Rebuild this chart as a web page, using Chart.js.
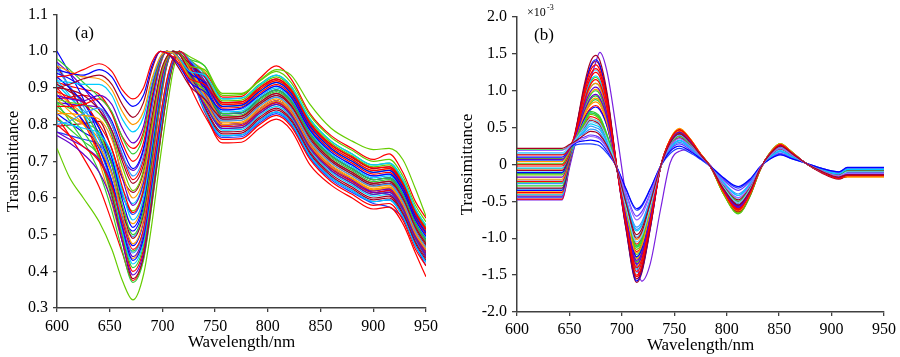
<!DOCTYPE html>
<html>
<head>
<meta charset="utf-8">
<script src="https://cdn.jsdelivr.net/npm/chart.js@4.4.1/dist/chart.umd.min.js"></script>
<style>
html,body{margin:0;padding:0;background:#fff;}
#wrap{position:relative;width:900px;height:357px;overflow:hidden;}
canvas{position:absolute;top:0;}
#ca{left:0;}
#cb{left:450px;}
</style>
</head>
<body>
<div id="wrap">
<canvas id="ca" width="450" height="357"></canvas>
<canvas id="cb" width="450" height="357"></canvas>
</div>
<script>
// ---------- Panel (a): wavelength grid (nm) and transmittance series ----------
const waveA = [600,612,625,640,652,662,672,682,690,698,704,710,716,726,740,757,775,792,808,822,840,860,880,900,915,928,940,950];
const xTicksA = [600,650,700,750,800,850,900,950];
const yTicksA = [0.3,0.4,0.5,0.6,0.7,0.8,0.9,1.0,1.1];

const a01 = [.93,.935,.95,.966,.945,.895,.87,.9,.97,1.0,.995,.985,.965,.925,.91,.86,.862,.9,.925,.895,.805,.745,.712,.682,.685,.64,.56,.515];
const a02 = [.95,.94,.935,.95,.93,.88,.85,.88,.96,1.0,.996,.982,.96,.915,.89,.84,.845,.88,.905,.875,.785,.725,.69,.66,.665,.62,.54,.495];
const a03 = [.90,.91,.925,.935,.91,.855,.82,.86,.95,1.0,.995,.978,.952,.905,.87,.82,.823,.86,.885,.853,.765,.705,.67,.64,.645,.60,.52,.475];
const a04 = [.96,.945,.93,.925,.895,.835,.80,.835,.925,.985,1.0,.995,.975,.925,.865,.80,.803,.84,.865,.835,.745,.685,.652,.622,.628,.582,.502,.458];
const a05 = [.92,.915,.91,.91,.88,.815,.78,.82,.915,.985,1.0,.995,.98,.945,.935,.87,.872,.908,.935,.905,.815,.755,.72,.69,.695,.65,.57,.525];
const a06 = [.88,.87,.865,.88,.855,.79,.75,.795,.905,.98,1.0,.995,.975,.92,.855,.79,.792,.83,.855,.825,.735,.675,.64,.61,.615,.57,.49,.445];
const a07 = [.98,.95,.915,.875,.835,.765,.72,.77,.89,.975,1.0,.996,.978,.93,.895,.83,.833,.87,.895,.865,.775,.715,.68,.65,.655,.61,.53,.485];
const a08 = [.85,.85,.855,.87,.83,.75,.70,.75,.875,.972,1.0,.995,.972,.905,.825,.76,.762,.8,.825,.795,.705,.645,.61,.58,.585,.54,.46,.415];
const a09 = [.94,.925,.9,.86,.81,.735,.68,.735,.865,.97,1.0,.996,.98,.94,.915,.85,.853,.89,.915,.885,.795,.735,.70,.67,.675,.63,.55,.505];
const a10 = [.80,.81,.83,.845,.8,.72,.66,.715,.85,.965,1.0,.996,.978,.925,.875,.81,.812,.85,.875,.845,.755,.695,.66,.632,.638,.59,.51,.465];
const a11 = [.90,.895,.88,.84,.785,.70,.64,.69,.82,.94,.985,1.0,.992,.94,.85,.78,.782,.82,.845,.815,.725,.665,.63,.60,.605,.56,.48,.435];
const a12 = [.87,.86,.855,.83,.775,.685,.62,.675,.805,.93,.982,1.0,.995,.96,.95,.88,.882,.918,.945,.915,.825,.765,.73,.70,.705,.66,.58,.535];
const a13 = [.83,.83,.825,.815,.76,.665,.60,.655,.79,.925,.98,1.0,.993,.95,.89,.82,.822,.86,.885,.855,.765,.705,.67,.64,.645,.60,.52,.475];
const a14 = [.97,.94,.9,.84,.77,.655,.58,.64,.775,.915,.978,1.0,.993,.945,.87,.80,.802,.84,.865,.835,.745,.685,.65,.62,.625,.58,.50,.455];
const a15 = [.89,.875,.86,.80,.735,.63,.56,.62,.76,.905,.975,1.0,.994,.955,.915,.845,.848,.885,.91,.88,.79,.73,.695,.665,.67,.625,.545,.50];
const a16 = [.81,.80,.79,.775,.72,.615,.54,.60,.745,.895,.972,1.0,.993,.94,.84,.77,.772,.81,.835,.805,.715,.655,.62,.59,.595,.55,.47,.425];
const a17 = [.93,.90,.86,.79,.71,.595,.52,.585,.73,.885,.97,1.0,.995,.955,.90,.83,.832,.87,.895,.865,.775,.715,.68,.65,.655,.61,.53,.485];
const a18 = [.86,.845,.83,.77,.69,.58,.50,.565,.715,.875,.965,1.0,.995,.95,.86,.79,.792,.83,.855,.825,.735,.675,.64,.61,.615,.57,.49,.445];
const a19 = [.91,.89,.865,.79,.69,.57,.49,.555,.705,.87,.962,1.0,.996,.965,.93,.86,.862,.9,.925,.895,.805,.745,.71,.68,.685,.64,.56,.515];
const a20 = [.84,.82,.80,.74,.665,.555,.475,.54,.695,.86,.96,1.0,.995,.955,.88,.81,.812,.85,.875,.845,.755,.695,.66,.63,.635,.59,.51,.465];
const a21 = [.80,.77,.74,.70,.63,.535,.46,.515,.665,.82,.92,.98,1.0,.965,.84,.75,.752,.79,.815,.785,.69,.635,.60,.57,.575,.53,.45,.385];
const a22 = [.95,.905,.85,.76,.665,.54,.45,.51,.66,.815,.915,.978,1.0,.975,.93,.84,.842,.88,.905,.875,.785,.725,.69,.66,.665,.62,.54,.495];
const a23 = [.78,.76,.74,.705,.635,.525,.44,.50,.65,.81,.91,.977,1.0,.97,.89,.80,.802,.84,.865,.835,.745,.685,.65,.615,.61,.57,.49,.44];
const a24 = [.88,.85,.81,.735,.645,.52,.43,.49,.64,.80,.905,.975,1.0,.972,.91,.82,.822,.86,.885,.855,.765,.705,.67,.64,.645,.60,.52,.475];
const a25 = [.92,.88,.83,.74,.64,.51,.42,.48,.63,.79,.90,.975,1.0,.968,.875,.785,.787,.825,.85,.82,.73,.67,.635,.605,.61,.565,.485,.44];
const a26 = [.85,.82,.78,.71,.62,.50,.41,.47,.62,.785,.895,.972,1.0,.978,.96,.87,.872,.91,.935,.905,.815,.755,.72,.69,.695,.65,.57,.525];
const a27 = [.90,.86,.805,.72,.62,.495,.40,.46,.61,.775,.89,.97,1.0,.972,.89,.80,.802,.84,.865,.835,.745,.685,.65,.62,.625,.58,.50,.455];
const a28 = [.77,.75,.72,.67,.59,.48,.39,.45,.60,.77,.885,.968,1.0,.975,.92,.83,.832,.87,.895,.865,.775,.715,.68,.65,.655,.61,.53,.485];
const a29 = [.96,.90,.83,.72,.61,.48,.38,.44,.59,.76,.88,.965,1.0,.972,.905,.815,.817,.855,.88,.85,.76,.70,.665,.635,.64,.595,.515,.47];
const a30 = [.86,.81,.755,.67,.565,.455,.37,.43,.58,.755,.875,.963,1.0,.976,.94,.85,.852,.89,.915,.885,.795,.735,.70,.67,.675,.63,.55,.505];
const a31 = [.82,.77,.71,.63,.535,.45,.375,.435,.585,.76,.877,.965,1.0,.972,.885,.795,.797,.835,.86,.83,.74,.68,.645,.615,.62,.575,.495,.45];
const a32 = [.735,.655,.60,.535,.46,.375,.322,.39,.53,.71,.835,.945,1.0,.985,.96,.885,.885,.92,.95,.935,.855,.79,.755,.732,.735,.705,.625,.55];
const a33 = [1.0,.94,.87,.77,.67,.55,.47,.535,.69,.855,.958,1.0,.993,.945,.84,.77,.772,.81,.835,.805,.715,.655,.62,.59,.595,.55,.47,.425];
const a34 = [.87,.875,.88,.86,.80,.715,.65,.705,.845,.962,1.0,.997,.982,.945,.94,.875,.877,.925,.96,.925,.83,.77,.735,.705,.72,.67,.59,.545];
const a35 = [.78,.77,.76,.745,.70,.61,.555,.615,.755,.90,.972,1.0,.993,.94,.835,.765,.767,.805,.83,.80,.71,.65,.615,.585,.575,.545,.47,.415];
const a36 = [.87,.836,.803,.758,.663,.572,.53,.595,.74,.89,.97,1.0,.994,.945,.875,.805,.807,.845,.87,.84,.75,.69,.655,.625,.63,.585,.505,.46];
const a37 = [.91,.874,.839,.791,.708,.624,.585,.645,.78,.918,.978,1.0,.993,.955,.905,.835,.837,.875,.9,.87,.78,.72,.685,.655,.66,.615,.535,.49];
const a38 = [.82,.788,.755,.712,.601,.501,.455,.512,.662,.818,.918,.979,1.0,.972,.915,.825,.827,.865,.89,.86,.77,.71,.675,.645,.65,.605,.525,.48];
const a39 = [.795,.799,.803,.809,.733,.653,.615,.67,.80,.928,.982,1.0,.992,.935,.845,.775,.777,.815,.84,.81,.72,.66,.625,.595,.60,.555,.475,.43];
const a40 = [.86,.856,.852,.846,.783,.71,.675,.73,.862,.968,1.0,.995,.975,.92,.865,.80,.802,.84,.865,.835,.745,.685,.65,.62,.625,.58,.50,.455];
const a41 = [.97,.90,.83,.736,.634,.539,.495,.56,.71,.872,.963,1.0,.995,.95,.885,.815,.817,.855,.88,.85,.76,.70,.665,.635,.64,.595,.515,.47];
const a42 = [.915,.905,.896,.883,.833,.767,.735,.78,.897,.977,1.0,.995,.978,.935,.92,.855,.857,.895,.92,.89,.80,.74,.705,.675,.68,.635,.555,.51];
const a43 = [.83,.805,.779,.745,.646,.553,.51,.575,.722,.88,.968,1.0,.995,.94,.865,.795,.797,.835,.86,.83,.74,.68,.645,.615,.62,.575,.495,.45];
const a44 = [.89,.857,.824,.70,.584,.482,.435,.495,.645,.805,.908,.976,1.0,.975,.945,.855,.857,.895,.92,.89,.80,.74,.705,.675,.68,.635,.555,.51];
const a45 = [.84,.822,.803,.779,.692,.605,.565,.625,.765,.908,.975,1.0,.994,.96,.935,.865,.867,.905,.93,.90,.81,.75,.715,.685,.69,.645,.565,.52];

const seriesA = [a01,a02,a03,a04,a05,a06,a07,a08,a09,a10,a11,a12,a13,a14,a15,a16,a17,a18,a19,a20,a21,a22,a23,a24,a25,a26,a27,a28,a29,a30,a31,a32,a33,a34,a35,a36,a37,a38,a39,a40,a41,a42,a43,a44,a45];
const colorsA = ['#ff0000','#0000ff','#a50021','#ff9900','#00ccff','#6600cc','#33cc33','#ff0000','#0000ff','#3399ff',
                 '#a50021','#66cc00','#ff9900','#6600cc','#ff0000','#00ccff','#0000ff','#33cc33','#a50021','#ff9900',
                 '#ff0000','#3399ff','#6600cc','#0000ff','#00ccff','#33cc33','#ff0000','#6600cc','#a50021','#33cc33',
                 '#ff0000','#66cc00','#0000ff','#ff0000','#1f3fff','#ff9900','#00ccff','#33cc33','#a50021','#6600cc',
                 '#3399ff','#ff0000','#0000ff','#ff9900','#66cc00'];

// ---------- Panel (b): wavelength grid (nm) and first-derivative series (x10^-3) ----------
const waveB = [600,643,650,657,664,670,675,679,686,695,704,714,719,727,737,746,755,765,775,785,797,811,822,832,842,851,862,875,890,907,915,950];
const xTicksB = [600,650,700,750,800,850,900,950];
const yTicksB = [-2.0,-1.5,-1.0,-0.5,0,0.5,1.0,1.5,2.0];

const b01 = [.22,.22,.27,.33,.40,.45,.44,.40,.25,-.05,-.52,-.95,-.87,-.52,-.02,.29,.42,.30,.13,-.04,-.33,-.55,-.36,-.05,.15,.25,.15,.02,-.09,-.17,-.14,-.14];
const b02 = [.19,.19,.25,.31,.35,.38,.37,.34,.21,-.04,-.41,-.75,-.69,-.41,-.02,.25,.35,.25,.11,-.04,-.27,-.45,-.29,-.04,.13,.22,.13,.02,-.08,-.15,-.12,-.12];
const b03 = [.16,.16,.24,.36,.51,.62,.60,.56,.34,-.04,-.58,-1.05,-.97,-.58,-.03,.28,.40,.29,.12,-.04,-.31,-.52,-.34,-.05,.14,.24,.14,.02,-.09,-.16,-.10,-.10];
const b04 = [.13,.13,.22,.49,.92,1.17,1.25,1.19,.81,-.03,-.8,-1.45,-1.33,-.8,-.03,.33,.47,.34,.14,-.04,-.37,-.62,-.40,-.06,.16,.27,.16,.02,-.10,-.19,-.15,-.15];
const b05 = [.10,.10,.22,.30,.32,.33,.32,.30,.18,-.03,-.33,-.60,-.55,-.33,-.02,.18,.25,.18,.08,-.03,-.18,-.30,-.20,-.03,.08,.13,.08,.02,-.05,-.10,-.04,-.04];
const b06 = [.07,.07,.2,.43,.72,.90,.95,.90,.62,-.04,-.72,-1.30,-1.2,-.72,-.03,.31,.44,.32,.13,-.04,-.35,-.58,-.38,-.06,.16,.26,.16,.02,-.10,-.18,-.13,-.13];
const b07 = [.04,.04,.19,.41,.66,.81,.85,.81,.55,-.04,-.66,-1.20,-1.10,-.66,-.03,.32,.46,.33,.14,-.04,-.38,-.63,-.41,-.06,.17,.28,.17,.02,-.10,-.18,-.16,-.16];
const b08 = [.01,.01,.17,.38,.57,.72,.70,.65,.40,-.04,-.6,-1.10,-1.01,-.6,-.03,.27,.38,.27,.11,-.04,-.30,-.50,-.33,-.05,.13,.22,.13,.02,-.08,-.15,-.09,-.09];
const b09 = [-.02,-.02,.14,.47,.85,1.08,1.15,1.09,.75,-.03,-.77,-1.40,-1.29,-.77,-.03,.32,.45,.32,.14,-.04,-.36,-.60,-.39,-.06,.16,.26,.16,.02,-.09,-.17,-.12,-.12];
const b10 = [-.05,-.05,.13,.35,.46,.55,.53,.50,.30,-.04,-.5,-.90,-.83,-.5,-.02,.23,.33,.24,.10,-.04,-.25,-.42,-.27,-.04,.11,.19,.11,.02,-.07,-.13,-.07,-.07];
const b11 = [-.08,-.08,.12,.54,1.07,1.39,1.48,1.41,.96,-.01,-.85,-1.55,-1.43,-.85,-.03,.33,.47,.34,.14,-.04,-.38,-.64,-.42,-.06,.16,.27,.16,.02,-.11,-.20,-.16,-.16];
const b12 = [-.11,-.11,.11,.40,.61,.74,.78,.74,.51,-.05,-.69,-1.25,-1.15,-.69,-.03,.28,.40,.29,.12,-.04,-.33,-.55,-.36,-.05,.14,.23,.14,.02,-.09,-.16,-.11,-.11];
const b13 = [-.14,-.14,.10,.38,.55,.68,.66,.61,.37,-.05,-.63,-1.15,-1.06,-.63,-.03,.30,.43,.31,.13,-.04,-.40,-.66,-.43,-.07,.17,.28,.17,.02,-.10,-.19,-.15,-.15];
const b14 = [-.17,-.17,.09,.45,.79,.99,1.05,1.0,.68,-.03,-.74,-1.35,-1.24,-.74,-.03,.29,.42,.30,.13,-.04,-.34,-.57,-.37,-.06,.15,.25,.15,.02,-.09,-.17,-.13,-.13];
const b15 = [-.20,-.20,.08,.42,.69,.85,.90,.86,.59,-.04,-.7,-1.28,-1.18,-.7,-.03,.34,.48,.35,.14,-.04,-.39,-.65,-.42,-.07,.17,.28,.17,.02,-.10,-.18,-.17,-.17];
const b16 = [-.23,-.23,.07,.51,.99,1.27,1.35,1.28,.88,-.02,-.84,-1.52,-1.40,-.84,-.03,.32,.46,.33,.14,-.04,-.37,-.61,-.40,-.06,.16,.26,.16,.02,-.10,-.18,-.14,-.14];
const b17 = [-.26,-.26,.06,.34,.42,.48,.47,.43,.26,-.04,-.47,-.85,-.78,-.47,-.02,.21,.30,.22,.09,-.04,-.24,-.40,-.26,-.04,.10,.17,.10,.02,-.07,-.12,-.06,-.06];
const b18 = [-.29,-.29,.05,.44,.76,.94,1.0,.95,.65,-.03,-.73,-1.32,-1.21,-.73,-.03,.32,.45,.32,.14,-.04,-.40,-.67,-.44,-.07,.17,.28,.17,.02,-.10,-.19,-.16,-.16];
const b19 = [-.32,-.32,.04,.36,.50,.60,.58,.54,.33,-.04,-.55,-1.00,-.92,-.55,-.03,.25,.36,.26,.11,-.04,-.29,-.48,-.31,-.05,.13,.21,.13,.02,-.08,-.14,-.08,-.08];
const b20 = [-.35,-.35,.03,.52,1.03,1.33,1.42,1.35,.92,-.02,-.87,-1.58,-1.45,-.87,-.03,.31,.44,.32,.13,-.04,-.35,-.59,-.38,-.06,.15,.25,.15,.02,-.09,-.17,-.12,-.12];
const b21 = [-.38,-.38,.02,.40,.63,.76,.80,.76,.52,-.04,-.65,-1.18,-1.09,-.65,-.03,.29,.41,.30,.12,-.04,-.34,-.56,-.36,-.06,.14,.24,.14,.02,-.09,-.16,-.11,-.11];
const b22 = [-.41,-.41,.01,.48,.89,1.13,1.20,1.14,.78,-.02,-.78,-1.42,-1.31,-.78,-.03,.30,.43,.31,.13,-.04,-.36,-.60,-.39,-.06,.15,.25,.15,.02,-.09,-.17,-.13,-.13];
const b23 = [-.44,-.44,0,.32,.37,.40,.39,.36,.22,-.03,-.39,-.70,-.64,-.39,-.02,.20,.28,.20,.08,-.03,-.21,-.35,-.23,-.04,.09,.15,.09,.02,-.06,-.11,-.05,-.05];
const b24 = [-.47,-.47,-.01,.50,.96,1.22,1.30,1.24,.85,-.02,-.83,-1.50,-1.38,-.83,-.03,.33,.47,.34,.14,-.04,-.38,-.63,-.41,-.06,.16,.27,.16,.02,-.10,-.19,-.15,-.15];
const b25 = [-.48,-.48,-.05,.38,.80,1.15,1.38,1.52,1.25,.45,-.45,-1.35,-1.58,-1.35,-.60,.02,.18,.20,.12,-.02,-.30,-.50,-.33,-.05,.13,.22,.13,.02,-.07,-.14,-.10,-.10];
const b26 = [-.37,-.37,.02,.46,.82,1.04,1.10,1.05,.72,-.03,-.76,-1.38,-1.27,-.76,-.03,.34,.49,.35,.15,-.04,-.40,-.66,-.43,-.07,.17,.28,.17,.02,-.10,-.18,-.16,-.16];
const b27 = [-.12,-.12,.11,.43,.71,.88,.93,.88,.60,-.03,-.67,-1.22,-1.12,-.67,-.03,.32,.46,.33,.14,-.04,-.38,-.64,-.42,-.06,.16,.27,.16,.02,-.10,-.18,-.15,-.15];
const b28 = [0,0,.17,.37,.53,.65,.63,.59,.36,-.04,-.59,-1.08,-.99,-.59,-.03,.27,.39,.28,.12,-.04,-.31,-.52,-.34,-.05,.14,.23,.14,.02,-.08,-.15,-.10,-.10];
const b29 = [.05,.05,.20,.27,.28,.28,.27,.25,.15,-.03,-.34,-.62,-.57,-.34,-.02,.15,.22,.16,.07,-.03,-.19,-.32,-.21,-.03,.08,.14,.08,.02,-.05,-.10,-.05,-.05];
const b30 = [-.43,-.43,0,.52,1.02,1.31,1.40,1.33,.91,-.02,-.88,-1.60,-1.47,-.88,-.03,.32,.45,.32,.14,-.04,-.37,-.62,-.40,-.06,.16,.26,.16,.02,-.10,-.18,-.14,-.14];
const b31 = [.20,.20,.26,.38,.56,.70,.68,.63,.385,-.04,-.62,-1.12,-1.03,-.62,-.03,.29,.41,.30,.12,-.04,-.34,-.56,-.36,-.06,.15,.25,.15,.02,-.09,-.16,-.13,-.13];
const b32 = [.14,.14,.23,.46,.82,1.04,1.10,1.05,.72,-.03,-.75,-1.36,-1.25,-.75,-.03,.31,.44,.32,.13,-.04,-.36,-.60,-.39,-.06,.16,.26,.16,.02,-.10,-.18,-.14,-.14];
const b33 = [-.06,-.06,.13,.36,.51,.62,.60,.56,.34,-.04,-.56,-1.02,-.94,-.56,-.03,.32,.45,.32,.14,-.04,-.37,-.62,-.40,-.06,.16,.27,.16,.02,-.10,-.18,-.15,-.15];
const b34 = [-.09,-.09,.12,.50,.94,1.20,1.28,1.22,.83,-.02,-.81,-1.47,-1.35,-.81,-.03,.29,.42,.30,.13,-.04,-.33,-.55,-.36,-.05,.14,.24,.14,.02,-.09,-.16,-.11,-.11];
const b35 = [-.25,-.25,.06,.42,.68,.83,.88,.84,.57,-.04,-.69,-1.26,-1.16,-.69,-.03,.33,.47,.34,.14,-.04,-.40,-.66,-.43,-.07,.17,.28,.17,.02,-.10,-.19,-.16,-.16];
const b36 = [-.33,-.33,.04,.38,.56,.70,.68,.63,.385,-.04,-.62,-1.12,-1.03,-.62,-.03,.28,.40,.29,.12,-.04,-.32,-.53,-.34,-.05,.14,.23,.14,.02,-.08,-.15,-.10,-.10];
const b37 = [-.40,-.40,.01,.44,.77,.96,1.02,.97,.66,-.03,-.73,-1.33,-1.22,-.73,-.03,.34,.48,.35,.14,-.04,-.38,-.64,-.42,-.06,.16,.27,.16,.02,-.10,-.18,-.15,-.15];
const b38 = [-.45,-.45,-.01,.34,.44,.52,.50,.47,.29,-.04,-.48,-.88,-.81,-.48,-.02,.22,.32,.23,.10,-.04,-.25,-.42,-.27,-.04,.11,.18,.11,.02,-.07,-.12,-.07,-.07];
const b39 = [.08,.08,.21,.48,.87,1.11,1.18,1.12,.77,-.02,-.77,-1.40,-1.29,-.77,-.03,.32,.46,.33,.14,-.04,-.39,-.65,-.42,-.07,.17,.28,.17,.02,-.10,-.19,-.16,-.16];
const b40 = [-.21,-.21,.08,.36,.48,.58,.56,.52,.32,-.04,-.54,-.98,-.90,-.54,-.02,.25,.36,.26,.11,-.04,-.28,-.46,-.30,-.05,.12,.20,.12,.02,-.07,-.13,-.08,-.08];

const seriesB = [b01,b02,b03,b04,b05,b06,b07,b08,b09,b10,b11,b12,b13,b14,b15,b16,b17,b18,b19,b20,b21,b22,b23,b24,b25,b26,b27,b28,b29,b30,b31,b32,b33,b34,b35,b36,b37,b38,b39,b40];
const colorsB = ['#a50021','#9966ff','#66ccff','#ff0000','#0000ff','#6600cc','#ff9900','#33cc33','#ff0000','#00ccff',
                 '#a50021','#0000ff','#66cc00','#6600cc','#ff9900','#ff0000','#3399ff','#33cc33','#a50021','#0000ff',
                 '#ff0000','#00ccff','#6633ff','#ff0000','#7a1fe0','#ff9900','#33cc33','#ff0000','#1f3fff','#a50021',
                 '#33cc33','#00ccff','#ff9900','#66ccff','#33cc33','#00ccff','#ff9900','#3399ff','#66cc00','#66ccff'];

// ---------- build ----------
const FONT = '"Liberation Serif", "Times New Roman", serif';
const AXIS = '#404040';
const bad = [];
function makeSets(xs, list, colors, tag){
  return list.map((ys,i)=>{
    if (ys.length !== xs.length) bad.push(tag+(i+1)+':'+ys.length);
    return {
      data: ys.map((y,j)=>({x:xs[j], y:y})),
      borderColor: colors[i % colors.length],
      borderWidth: 1.2,
      pointRadius: 0,
      fill: false,
      cubicInterpolationMode: 'monotone'
    };
  });
}
function fixedTicks(vals){
  return function(scale){ scale.ticks = vals.map(v=>({value:v})); };
}
function opts(cfg){
  return {
    responsive:false, animation:false, events:[],
    layout:{padding:{left:0, right:cfg.padR, top:cfg.padT, bottom:0}},
    plugins:{legend:{display:false}, tooltip:{enabled:false}},
    scales:{
      x:{
        type:'linear', min:600, max:950,
        afterBuildTicks: fixedTicks(cfg.xt),
        afterFit: s=>{ s.height = cfg.xh; },
        grid:{drawOnChartArea:false, drawTicks:true, tickLength:4, color:AXIS, lineWidth:1.3},
        border:{display:true, color:AXIS, width:1.5},
        ticks:{color:'#000', padding:cfg.xpad, font:{family:FONT, size:16}, maxRotation:0, autoSkip:false,
               callback:v=>String(v)},
        title:{display:true, text:'Wavelength/nm', color:'#000', font:{family:FONT, size:17}, padding:{top:0,bottom:cfg.xtb}}
      },
      y:{
        type:'linear', min:cfg.ymin, max:cfg.ymax,
        afterBuildTicks: fixedTicks(cfg.yt),
        afterFit: s=>{ s.width = cfg.yw; },
        grid:{drawOnChartArea:false, drawTicks:true, tickLength:cfg.ytl, color:AXIS, lineWidth:1.3},
        border:{display:true, color:AXIS, width:1.5},
        ticks:{color:'#000', padding:5, font:{family:FONT, size:16}, autoSkip:false, callback:cfg.yfmt},
        title:{display:true, text:'Transimittance', color:'#000', font:{family:FONT, size:17}, padding:{top:cfg.ytp,bottom:0}}
      }
    }
  };
}
const labelPlugin = (items)=>({
  id:'panelLabels',
  afterDraw(chart){
    const ctx = chart.ctx;
    ctx.save();
    ctx.fillStyle = '#000';
    ctx.textBaseline = 'alphabetic';
    items.forEach(it=>{
      ctx.font = it.size+'px '+FONT;
      ctx.fillText(it.text, it.x, it.y);
    });
    ctx.restore();
  }
});

new Chart(document.getElementById('ca'), {
  type:'line',
  data:{datasets: makeSets(waveA, seriesA, colorsA, 'a')},
  options: opts({padR:24, padT:14, xh:49, xpad:5, xtb:4, yw:57, ytl:4, ytp:3,
    ymin:0.3, ymax:1.1, xt:xTicksA, yt:yTicksA, yfmt:v=>v.toFixed(1)}),
  plugins:[labelPlugin([{text:'(a)', x:75, y:38, size:17}])]
});

new Chart(document.getElementById('cb'), {
  type:'line',
  data:{datasets: makeSets(waveB, seriesB, colorsB, 'b')},
  options: opts({padR:14, padT:17, xh:45, xpad:4, xtb:1, yw:67, ytl:5, ytp:7,
    ymin:-2.0, ymax:2.0, xt:xTicksB, yt:yTicksB, yfmt:v=>(v===0?'0':v.toFixed(1))}),
  plugins:[labelPlugin([
    {text:'(b)', x:84, y:40, size:17},
    {text:'\u00d710', x:77, y:16, size:12},
    {text:'-3', x:97, y:10, size:8}
  ])]
});

if (bad.length) { setTimeout(()=>{ throw new Error('length mismatch: '+bad.join(',')); }, 0); }
</script>
</body>
</html>
